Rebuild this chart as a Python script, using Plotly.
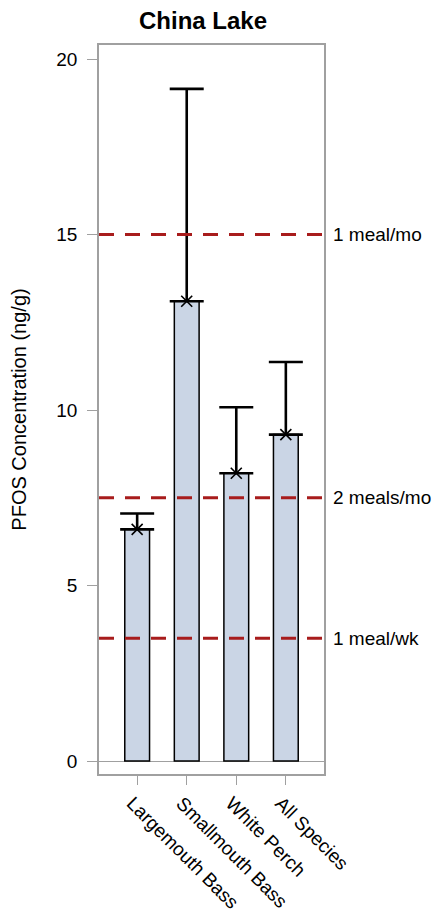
import plotly.graph_objects as go

categories = ["Largemouth Bass", "Smallmouth Bass", "White Perch", "All Species"]
means = [6.6, 13.1, 8.2, 9.3]
uppers = [7.05, 19.15, 10.08, 11.37]
ref_values = [15, 7.5, 3.5]
ref_labels = ["1 meal/mo", "2 meals/mo", "1 meal/wk"]
y_ticks = [0, 5, 10, 15, 20]

FONT = "Liberation Sans, Arial, sans-serif"
err_plus = [u - m for u, m in zip(uppers, means)]
xpos = list(range(len(categories)))

# the page places the figure 8px from its top-left corner (body margin)
W, H = 438, 913

fig = go.Figure()
fig.add_trace(go.Bar(
    x=xpos, y=means, width=0.5,
    marker=dict(color="#CAD5E5", line=dict(color="#000000", width=1.5)),
    showlegend=False, hoverinfo="skip",
))
fig.add_trace(go.Scatter(
    x=xpos, y=means, mode="markers",
    marker=dict(symbol="x-thin-open", size=11, color="#000000",
                line=dict(color="#000000", width=1.6)),
    error_y=dict(type="data", symmetric=False, array=err_plus,
                 arrayminus=[0] * len(means), color="#000000",
                 thickness=2.6, width=17),
    showlegend=False, hoverinfo="skip",
))

for v, lab in zip(ref_values, ref_labels):
    fig.add_shape(type="line", xref="paper", x0=0, x1=1, yref="y", y0=v, y1=v,
                  line=dict(color="#A81C1C", width=3, dash="15px,11px"),
                  layer="above")
    fig.add_annotation(xref="paper", x=1, yref="y", y=v, text=lab,
                       showarrow=False, xanchor="left", yanchor="middle",
                       xshift=7, font=dict(family=FONT, size=19, color="#000000"))

fig.add_annotation(xref="paper", x=203 / W, xanchor="center",
                   yref="paper", y=1, yanchor="bottom", yshift=9,
                   text="<b>China Lake</b>", showarrow=False,
                   font=dict(family=FONT, size=24, color="#000000"))

fig.update_layout(
    width=W, height=H,
    margin=dict(l=91, r=122, t=37, b=147, autoexpand=False),
    plot_bgcolor="white", paper_bgcolor="white",
    bargap=0.5,
)
fig.update_xaxes(
    range=[-0.77, 3.77], tickmode="array", tickvals=xpos, ticktext=categories,
    tickangle=45, ticks="outside", ticklen=9, tickcolor="#A0A0A0",
    showline=True, linecolor="#A0A0A0", linewidth=1.5, mirror=True,
    showgrid=False, zeroline=False, automargin=False,
    ticklabelshift=-5,
    tickfont=dict(family=FONT, size=19, color="#000000"),
)
fig.update_yaxes(
    range=[-0.37, 20.4], tickmode="array", tickvals=y_ticks,
    ticks="outside", ticklen=10, tickcolor="#A0A0A0",
    showline=True, linecolor="#A0A0A0", linewidth=1.5, mirror=True,
    showgrid=False, zeroline=True, zerolinecolor="#A0A0A0", zerolinewidth=1.2,
    ticklabelstandoff=6, automargin=False,
    tickfont=dict(family=FONT, size=19, color="#000000"),
    title=dict(text="PFOS Concentration (ng/g)", standoff=26,
               font=dict(family=FONT, size=20, color="#000000")),
)

fig.write_html("out.html")
